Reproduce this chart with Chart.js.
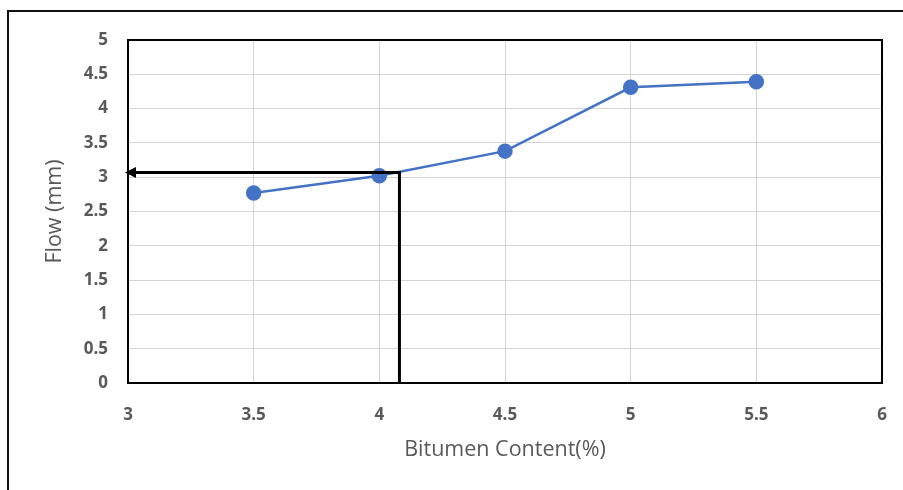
<!DOCTYPE html>
<html>
<head>
<meta charset="utf-8">
<script src="https://cdn.jsdelivr.net/npm/chart.js@4/dist/chart.umd.min.js"></script>
<style>
  html, body { margin: 0; padding: 0; background: #fff; overflow: hidden; }
  #wrap { position: relative; width: 903px; height: 490px; }
  #frame { position: absolute; left: 7px; top: 10px; width: 910px; height: 500px;
           border-left: 2px solid #111; border-top: 2px solid #111; box-sizing: border-box; }
  canvas { position: absolute; left: 0; top: 0; }
</style>
</head>
<body>
<div id="wrap">
  <div id="frame"></div>
  <canvas id="c" width="903" height="490"></canvas>
</div>
<script>
// Marshall test: flow against bitumen content
const bitumenContent = [3.5, 4.0, 4.5, 5.0, 5.5];
const flowValues = [2.77, 3.02, 3.38, 4.31, 4.39];

// Reading of the optimum bitumen content on the flow curve
const optimumContent = 4.08;
const optimumFlow = 3.07;
const xAxisMin = 3;

const xTicks = [3, 3.5, 4, 4.5, 5, 5.5, 6];
const yTicks = [0, 0.5, 1, 1.5, 2, 2.5, 3, 3.5, 4, 4.5, 5];

const flowPoints = bitumenContent.map((x, i) => ({ x: x, y: flowValues[i] }));
const readingPath = [
  { x: optimumContent, y: 0 },
  { x: optimumContent, y: optimumFlow },
  { x: xAxisMin, y: optimumFlow }
];

const tickFont = { family: "'Open Sans', sans-serif", size: 17, weight: 'bold' };
const titleFont = { family: "'Open Sans', sans-serif", size: 21.5 };
const textGray = '#595959';

// Arrowhead at the end of the reading path, plus the plot border
const arrowPlugin = {
  id: 'arrowAndBorder',
  afterDatasetsDraw(chart) {
    const ctx = chart.ctx;
    const xs = chart.scales.x, ys = chart.scales.y;
    const tipX = xs.getPixelForValue(xAxisMin) - 3;
    const tipY = ys.getPixelForValue(optimumFlow);
    ctx.save();
    ctx.fillStyle = '#000';
    ctx.beginPath();
    ctx.moveTo(tipX, tipY);
    ctx.lineTo(tipX + 11, tipY - 5.5);
    ctx.lineTo(tipX + 11, tipY + 5.5);
    ctx.closePath();
    ctx.fill();
    const a = chart.chartArea;
    ctx.strokeStyle = '#000';
    ctx.lineWidth = 2;
    ctx.strokeRect(a.left, a.top, a.right - a.left, a.bottom - a.top);
    ctx.restore();
  }
};

new Chart(document.getElementById('c'), {
  type: 'scatter',
  data: {
    datasets: [
      {
        label: 'Flow',
        data: flowPoints,
        showLine: true,
        borderColor: '#4472c4',
        backgroundColor: '#4472c4',
        borderWidth: 2.5,
        pointRadius: 6.5,
        pointHoverRadius: 6.5,
        order: 2
      },
      {
        label: 'Reading',
        data: readingPath,
        showLine: true,
        borderColor: '#000',
        borderWidth: 3,
        pointRadius: 0,
        fill: false,
        order: 1
      }
    ]
  },
  options: {
    responsive: false,
    animation: false,
    events: [],
    layout: { padding: { left: 0, top: 40, right: 21, bottom: 0 } },
    plugins: { legend: { display: false }, tooltip: { enabled: false } },
    scales: {
      x: {
        type: 'linear',
        min: 3, max: 6,
        afterBuildTicks(scale) { scale.ticks = xTicks.map(v => ({ value: v })); },
        afterFit(scale) { scale.height = 107; scale.paddingLeft = 0; scale.paddingRight = 0; },
        grid: { color: '#d4d4d4', lineWidth: 1, drawTicks: false },
        border: { display: false },
        ticks: { font: tickFont, color: textGray, padding: 22, maxRotation: 0,
                 callback: v => String(v) },
        title: { display: true, text: 'Bitumen Content(%)', font: titleFont, color: textGray,
                 padding: { top: 4, bottom: 27 } }
      },
      y: {
        type: 'linear',
        min: 0, max: 5,
        afterBuildTicks(scale) { scale.ticks = yTicks.map(v => ({ value: v })); },
        afterFit(scale) { scale.width = 128; scale.paddingTop = 0; scale.paddingBottom = 0; },
        grid: { color: '#d4d4d4', lineWidth: 1, drawTicks: false },
        border: { display: false },
        ticks: { font: tickFont, color: textGray, padding: 20,
                 callback: v => String(v) },
        title: { display: true, text: 'Flow (mm)', font: titleFont, color: textGray,
                 padding: { top: 42, bottom: 4 } }
      }
    }
  },
  plugins: [arrowPlugin]
});
</script>
</body>
</html>
